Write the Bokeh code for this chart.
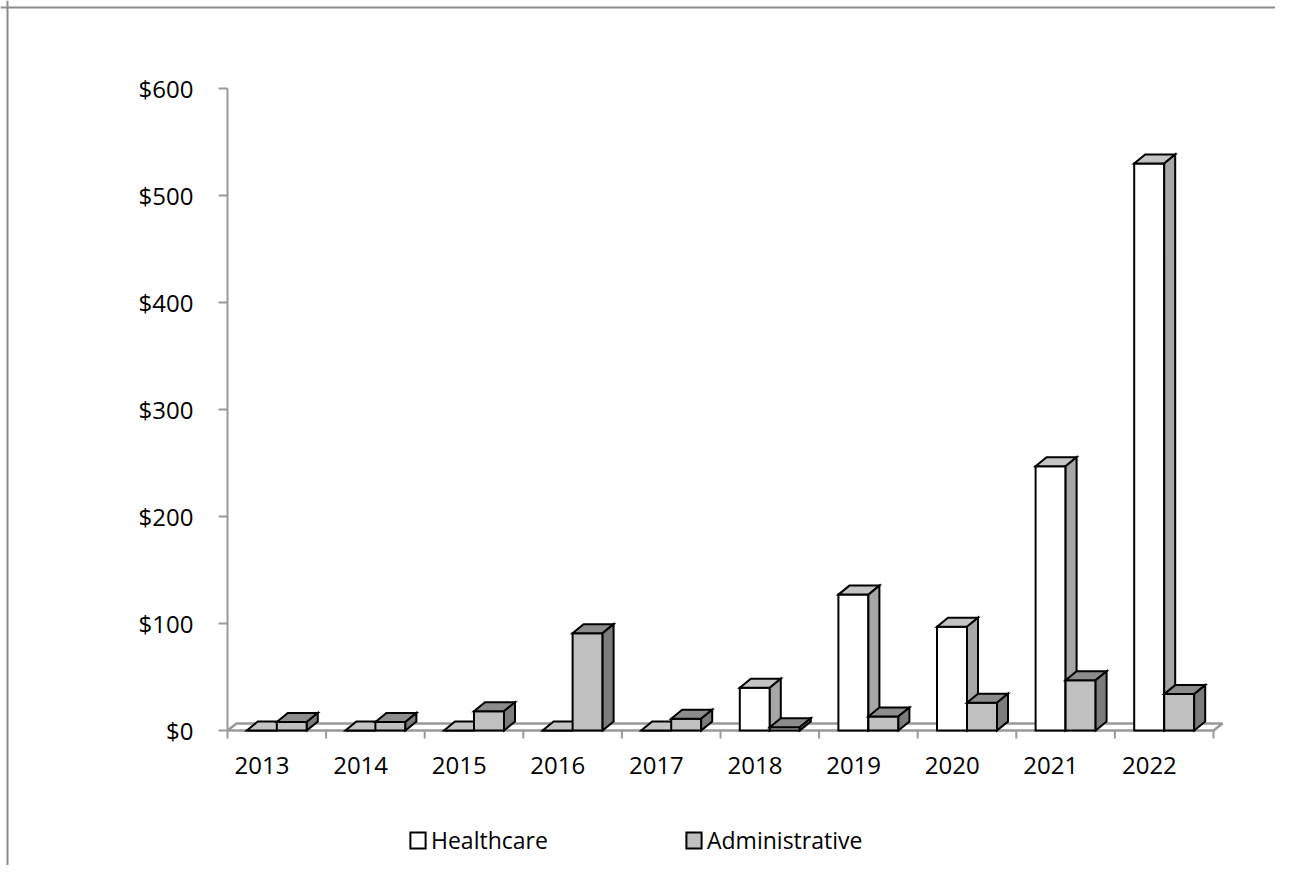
from bokeh.plotting import figure
from bokeh.models import (LinearAxis, FixedTicker, PrintfTickFormatter, Span,
                          Legend, LegendItem, Range1d)
from bokeh.embed import file_html
from bokeh.resources import INLINE

# ---- data ----
years = ["2013", "2014", "2015", "2016", "2017", "2018", "2019", "2020", "2021", "2022"]
healthcare = [0, 0, 0, 0, 0, 40, 127, 97, 247, 530]
administrative = [8, 8, 18, 91, 11, 3, 13, 26, 47, 34]
y_ticks = [0, 100, 200, 300, 400, 500, 600]

# ---- geometry (pixels) ----
W, H = 1275, 865
origin_x = 227.0      # canvas px of the left end of the category axis
origin_y = 730.0      # canvas px (from top) of value 0
cat_px = 98.6         # px per category
unit_px = 642.0 / 600 # px per $ unit
bar_px = 30.0
bdx, bdy = 11.0 / cat_px, 9.0 / unit_px    # bar depth offset (data units)
fdx, fdy = 9.0 / cat_px, 7.0 / unit_px     # floor depth offset
bw = bar_px / cat_px
n = len(years)

x_start = -origin_x / cat_px
x_end = (W - origin_x) / cat_px
y_end = origin_y / unit_px
y_start = -(H - origin_y) / unit_px

FONT = "Open Sans"
GRAY = "#999999"

p = figure(width=W, height=H, x_range=Range1d(x_start, x_end),
           y_range=Range1d(y_start, y_end), output_backend="svg",
           toolbar_location=None, min_border=0, x_axis_type=None,
           y_axis_type=None)
p.outline_line_color = None
p.background_fill_color = "white"
p.border_fill_color = "white"

# chart-area border (left and top)
p.add_layout(Span(location=x_start + 7.0 / cat_px, dimension="height",
                  line_color="#8c8c8c", line_width=2))
p.add_layout(Span(location=y_end - 7.0 / unit_px, dimension="width",
                  line_color="#8c8c8c", line_width=2))

# floor
p.patch(x=[0, n, n + fdx, fdx], y=[0, 0, fdy, fdy], fill_color=None,
        line_color=GRAY, line_width=2.5)

# category boundary tick marks below the floor
bounds_x = list(range(n + 1))
p.segment(x0=bounds_x, y0=[0] * (n + 1), x1=bounds_x,
          y1=[-8.0 / unit_px] * (n + 1), line_color=GRAY, line_width=2)


def draw_series(vals, offset, front, top, side):
    lefts = [i + 0.5 + offset for i in range(len(vals))]
    rights = [l + bw for l in lefts]
    fr = p.quad(left=lefts, right=rights, bottom=[0] * len(vals), top=vals,
                fill_color=front, line_color="black", line_width=2,
                line_join="miter")
    p.patches(xs=[[l, r, r + bdx, l + bdx] for l, r in zip(lefts, rights)],
              ys=[[v, v, v + bdy, v + bdy] for v in vals],
              fill_color=top, line_color="black", line_width=2,
              line_join="miter")
    p.patches(xs=[[r, r + bdx, r + bdx, r] for r in rights],
              ys=[[0, bdy, v + bdy, v] for v in vals],
              fill_color=side, line_color="black", line_width=2,
              line_join="miter")
    return fr


hc = draw_series(healthcare, -bw, "white", "#c4c4c4", "#a6a6a6")
ad = draw_series(administrative, 0.0, "#c0c0c0", "#8c8c8c", "#7c7c7c")

# y axis
yaxis = LinearAxis(fixed_location=0, bounds=(0, 600),
                   ticker=FixedTicker(ticks=y_ticks, minor_ticks=[]),
                   formatter=PrintfTickFormatter(format="$%d"),
                   axis_line_color=GRAY, axis_line_width=2,
                   major_tick_line_color=GRAY, major_tick_line_width=2,
                   major_tick_out=9, major_tick_in=0,
                   minor_tick_line_color=None, major_label_standoff=25,
                   major_label_text_font=FONT,
                   major_label_text_font_size="24px",
                   major_label_text_color="black")
p.add_layout(yaxis, "left")

# x labels
shift = 0.35
p.extra_x_ranges = {"lab": Range1d(x_start - shift, x_end - shift)}
laxis = LinearAxis(x_range_name="lab", fixed_location=0,
                   ticker=FixedTicker(ticks=list(range(n)), minor_ticks=[]),
                   major_label_overrides={i: y for i, y in enumerate(years)},
                   axis_line_color=None, major_tick_line_color=None,
                   minor_tick_line_color=None, major_tick_out=0,
                   major_label_standoff=26, major_label_text_font=FONT,
                   major_label_text_font_size="24px",
                   major_label_text_color="black")
p.add_layout(laxis, "below")

# legends
common = dict(orientation="horizontal", glyph_width=19, glyph_height=20,
              label_standoff=4, padding=0, margin=0, border_line_color=None,
              background_fill_alpha=0, label_text_font=FONT,
              label_text_font_size="23px", label_text_color="black")
p.add_layout(Legend(items=[LegendItem(label="Healthcare", renderers=[hc])],
                    location=(408, 9), **common))
p.add_layout(Legend(items=[LegendItem(label="Administrative", renderers=[ad])],
                    location=(684, 9), **common))

open("out.html", "w").write(file_html(p, INLINE))
